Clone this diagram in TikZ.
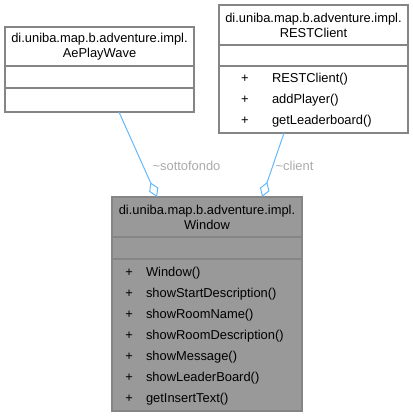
\documentclass[tikz,border=0pt]{standalone}
\usepackage{fontspec}
\setmainfont{Liberation Sans}
\usetikzlibrary{arrows.meta,positioning,calc}
\definecolor{UmlEdge}{HTML}{63B8FF}
\definecolor{UmlLine}{HTML}{858585}
\definecolor{UmlFill}{HTML}{999999}
\definecolor{UmlLabel}{HTML}{AAAAAA}

\begin{document}
\begin{tikzpicture}[x=1pt,y=-1pt,>=Stealth]
  \tikzset{
    umlhead/.style={draw=UmlLine,line width=1.2pt,outer sep=0pt,text width=189pt,inner xsep=0pt,inner ysep=0pt,
      minimum height=40pt,align=center,anchor=north west,font=\fontsize{12.9}{15}\selectfont},
    umlattr/.style={draw=UmlLine,line width=1.2pt,outer sep=0pt,minimum width=189pt,minimum height=22pt,inner sep=0pt},
    umlops/.style={draw=UmlLine,line width=1.2pt,outer sep=0pt,text width=189pt,inner xsep=0pt,inner ysep=0pt,
      align=left,font=\fontsize{12.9}{15}\selectfont},
    usage/.style={draw=UmlEdge,line width=1pt,{Diamond[open,length=16pt,width=10pt]}-},
    rolelabel/.style={text=UmlLabel,inner sep=0pt,anchor=west,font=\fontsize{12.9}{15}\selectfont}
  }
  \useasboundingbox (0,0) rectangle (413,416);
  \renewcommand{\arraystretch}{1.40}
  % AePlayWave
  \node[umlhead,minimum height=39pt] (aeHead) at (5,27) {di.uniba.map.b.adventure.impl.\\AePlayWave};
  \node[umlattr,below=0pt of aeHead] (aeAttr) {};
  \node[umlops,minimum height=24pt,below=0pt of aeAttr] (aeOps) {};
  % RESTClient
  \node[umlhead] (restHead) at (219,5) {di.uniba.map.b.adventure.impl.\\RESTClient};
  \node[umlattr,minimum height=21pt,below=0pt of restHead] (restAttr) {};
  \node[umlops,minimum height=67pt,below=0pt of restAttr] (restOps) {%
    \begin{tabular}{@{\hspace{22.2pt}}c@{\hspace{23.3pt}}l@{}}
      + & RESTClient()\\
      + & addPlayer()\\
      + & getLeaderboard()
    \end{tabular}};
  % Window
  \node[umlhead,text width=190pt,fill=UmlFill] (winHead) at (112,197) {di.uniba.map.b.adventure.impl.\\Window};
  \node[umlattr,minimum width=190pt,fill=UmlFill,below=0pt of winHead] (winAttr) {};
  \node[umlops,text width=190pt,minimum height=152pt,fill=UmlFill,below=0pt of winAttr] (winOps) {%
    \begin{tabular}{@{\hspace{13.3pt}}c@{\hspace{13.2pt}}l@{}}
      + & Window()\\
      + & showStartDescription()\\
      + & showRoomName()\\
      + & showRoomDescription()\\
      + & showMessage()\\
      + & showLeaderBoard()\\
      + & getInsertText()
    \end{tabular}};
  % usage links
  \draw[usage] ($(winHead.north west)!.237!(winHead.north east)$) --
    node[rolelabel,pos=.365,xshift=9pt] (sottofondoLabel) {\textasciitilde sottofondo}
    ($(aeOps.south west)!.603!(aeOps.south east)$);
  \draw[usage] ($(winHead.north west)!.79!(winHead.north east)$) --
    node[rolelabel,pos=.484,xshift=2.5pt] (clientLabel) {\textasciitilde client}
    ($(restOps.south west)!.344!(restOps.south east)$);
\end{tikzpicture}
\end{document}
